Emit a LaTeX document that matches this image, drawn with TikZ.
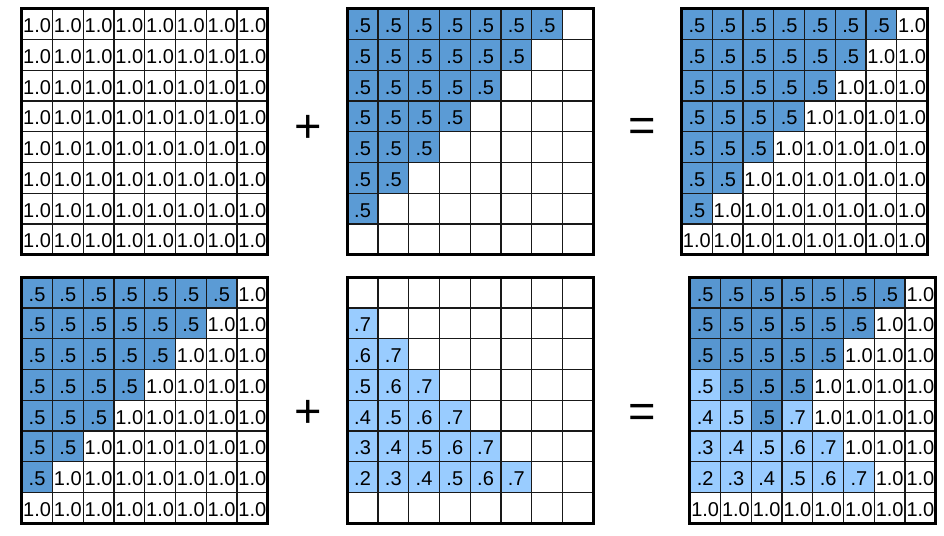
\documentclass[tikz,border=0pt]{standalone}
\usepackage{fontspec}
\setmainfont{Liberation Sans}
\definecolor{cdark}{HTML}{5B9BD5}
\definecolor{cdarkb}{HTML}{5796D0}
\definecolor{clight}{HTML}{99CCFF}
\def\E{}
\def\cs{30.75}
\tikzset{
  cellbox/.style={draw=black!90, line width=1.3pt, minimum size=\cs pt, inner sep=0pt, outer sep=0pt,
    font=\fontsize{20}{21}\selectfont, text height=17pt, text depth=0pt},
  d/.style={fill=cdark},
  k/.style={fill=cdarkb},
  l/.style={fill=clight},
  w/.style={fill=white},
  outerline/.style={draw=black, line width=3pt},
  opsign/.style={font=\fontsize{47}{50}\selectfont, anchor=base, inner sep=0pt}
}
\newcommand{\cellgrid}[4]{%
  \foreach \rowlist [count=\r] in {#4} {
    \foreach \ff/\vv [count=\c] in \rowlist {
      \node[cellbox,\ff] (#1-\r-\c) at ({#2+(\c-0.5)*\cs},{#3+(\r-0.5)*\cs}) {\vv};
    }
  }
  \draw[outerline] (#1-1-1.north west) rectangle (#1-8-8.south east);
}
\begin{document}
\begin{tikzpicture}[x=1pt,y=-1pt]
\useasboundingbox (0,0) rectangle (944,535);
% top row
\cellgrid{ga}{21.7}{8.8}{
 {w/1.0,w/1.0,w/1.0,w/1.0,w/1.0,w/1.0,w/1.0,w/1.0},
 {w/1.0,w/1.0,w/1.0,w/1.0,w/1.0,w/1.0,w/1.0,w/1.0},
 {w/1.0,w/1.0,w/1.0,w/1.0,w/1.0,w/1.0,w/1.0,w/1.0},
 {w/1.0,w/1.0,w/1.0,w/1.0,w/1.0,w/1.0,w/1.0,w/1.0},
 {w/1.0,w/1.0,w/1.0,w/1.0,w/1.0,w/1.0,w/1.0,w/1.0},
 {w/1.0,w/1.0,w/1.0,w/1.0,w/1.0,w/1.0,w/1.0,w/1.0},
 {w/1.0,w/1.0,w/1.0,w/1.0,w/1.0,w/1.0,w/1.0,w/1.0},
 {w/1.0,w/1.0,w/1.0,w/1.0,w/1.0,w/1.0,w/1.0,w/1.0}}
\cellgrid{gb}{347.2}{8.8}{
 {d/.5,d/.5,d/.5,d/.5,d/.5,d/.5,d/.5,w/\E},
 {d/.5,d/.5,d/.5,d/.5,d/.5,d/.5,w/\E,w/\E},
 {d/.5,d/.5,d/.5,d/.5,d/.5,w/\E,w/\E,w/\E},
 {d/.5,d/.5,d/.5,d/.5,w/\E,w/\E,w/\E,w/\E},
 {d/.5,d/.5,d/.5,w/\E,w/\E,w/\E,w/\E,w/\E},
 {d/.5,d/.5,w/\E,w/\E,w/\E,w/\E,w/\E,w/\E},
 {d/.5,w/\E,w/\E,w/\E,w/\E,w/\E,w/\E,w/\E},
 {w/\E,w/\E,w/\E,w/\E,w/\E,w/\E,w/\E,w/\E}}
\cellgrid{gc}{681.5}{8.8}{
 {d/.5,d/.5,d/.5,d/.5,d/.5,d/.5,d/.5,w/1.0},
 {d/.5,d/.5,d/.5,d/.5,d/.5,d/.5,w/1.0,w/1.0},
 {d/.5,d/.5,d/.5,d/.5,d/.5,w/1.0,w/1.0,w/1.0},
 {d/.5,d/.5,d/.5,d/.5,w/1.0,w/1.0,w/1.0,w/1.0},
 {d/.5,d/.5,d/.5,w/1.0,w/1.0,w/1.0,w/1.0,w/1.0},
 {d/.5,d/.5,w/1.0,w/1.0,w/1.0,w/1.0,w/1.0,w/1.0},
 {d/.5,w/1.0,w/1.0,w/1.0,w/1.0,w/1.0,w/1.0,w/1.0},
 {w/1.0,w/1.0,w/1.0,w/1.0,w/1.0,w/1.0,w/1.0,w/1.0}}
% bottom row
\cellgrid{gd}{21.7}{277.2}{
 {d/.5,d/.5,d/.5,d/.5,d/.5,d/.5,d/.5,w/1.0},
 {d/.5,d/.5,d/.5,d/.5,d/.5,d/.5,w/1.0,w/1.0},
 {d/.5,d/.5,d/.5,d/.5,d/.5,w/1.0,w/1.0,w/1.0},
 {d/.5,d/.5,d/.5,d/.5,w/1.0,w/1.0,w/1.0,w/1.0},
 {d/.5,d/.5,d/.5,w/1.0,w/1.0,w/1.0,w/1.0,w/1.0},
 {d/.5,d/.5,w/1.0,w/1.0,w/1.0,w/1.0,w/1.0,w/1.0},
 {d/.5,w/1.0,w/1.0,w/1.0,w/1.0,w/1.0,w/1.0,w/1.0},
 {w/1.0,w/1.0,w/1.0,w/1.0,w/1.0,w/1.0,w/1.0,w/1.0}}
\cellgrid{ge}{347.2}{277.2}{
 {w/\E,w/\E,w/\E,w/\E,w/\E,w/\E,w/\E,w/\E},
 {l/.7,w/\E,w/\E,w/\E,w/\E,w/\E,w/\E,w/\E},
 {l/.6,l/.7,w/\E,w/\E,w/\E,w/\E,w/\E,w/\E},
 {l/.5,l/.6,l/.7,w/\E,w/\E,w/\E,w/\E,w/\E},
 {l/.4,l/.5,l/.6,l/.7,w/\E,w/\E,w/\E,w/\E},
 {l/.3,l/.4,l/.5,l/.6,l/.7,w/\E,w/\E,w/\E},
 {l/.2,l/.3,l/.4,l/.5,l/.6,l/.7,w/\E,w/\E},
 {w/\E,w/\E,w/\E,w/\E,w/\E,w/\E,w/\E,w/\E}}
\cellgrid{gf}{689.8}{277.2}{
 {k/.5,k/.5,k/.5,k/.5,k/.5,k/.5,k/.5,w/1.0},
 {k/.5,k/.5,k/.5,k/.5,k/.5,k/.5,w/1.0,w/1.0},
 {k/.5,k/.5,k/.5,k/.5,k/.5,w/1.0,w/1.0,w/1.0},
 {l/.5,k/.5,k/.5,k/.5,w/1.0,w/1.0,w/1.0,w/1.0},
 {l/.4,l/.5,k/.5,l/.7,w/1.0,w/1.0,w/1.0,w/1.0},
 {l/.3,l/.4,l/.5,l/.6,l/.7,w/1.0,w/1.0,w/1.0},
 {l/.2,l/.3,l/.4,l/.5,l/.6,l/.7,w/1.0,w/1.0},
 {w/1.0,w/1.0,w/1.0,w/1.0,w/1.0,w/1.0,w/1.0,w/1.0}}
% operators
\node[opsign] (plusA) at (308,142.6) {+};
\node[opsign] (eqA) at (642,141.5) {=};
\node[opsign] (plusB) at (308,427.6) {+};
\node[opsign] (eqB) at (642,427.6) {=};
\end{tikzpicture}
\end{document}
